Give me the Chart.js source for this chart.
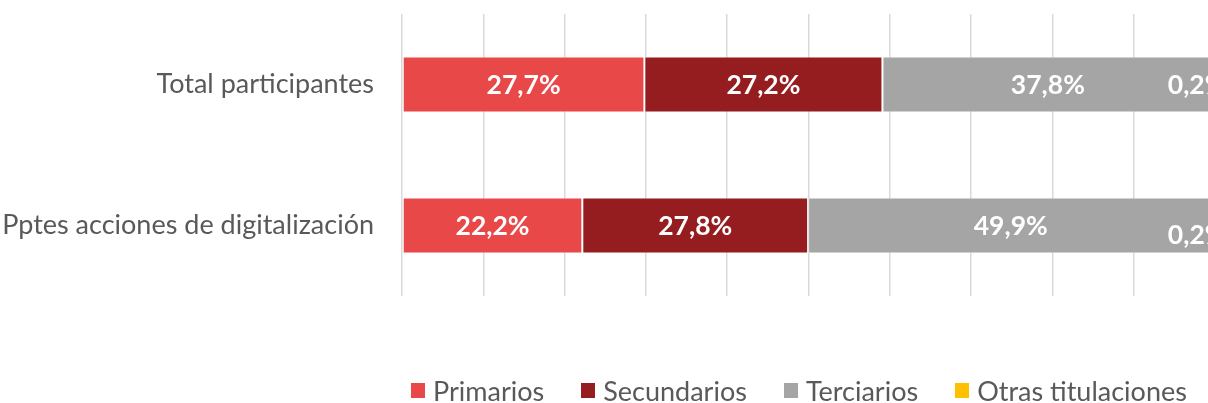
<!DOCTYPE html>
<html lang="es">
<head>
    <meta charset="UTF-8">
    <title>Nivel de estudios</title>
    <script src="https://cdn.jsdelivr.net/npm/chart.js"></script>
    <style>
        html, body {
            margin: 0;
            padding: 0;
            background: #fff;
            overflow: hidden;
            width: 1208px;
            height: 403px;
        }
        .wrap {
            position: relative;
            width: 1230px;
            height: 403px;
        }
        .legend {
            position: absolute;
            left: 411px;
            top: 374px;
            display: flex;
            align-items: center;
            font-family: Lato, sans-serif;
            font-size: 27px;
            color: #595959;
            white-space: nowrap;
        }
        .legend .item { display: flex; align-items: center; margin-right: 37px; }
        .legend .box { width: 14px; height: 15px; margin-right: 8px; }
    </style>
</head>
<body>
<div class="wrap">
    <canvas id="chart" width="1230" height="403"></canvas>
    <div class="legend" id="legend"></div>
</div>

<script>
    // data
    const categories = ['Total participantes', 'Pptes acciones de digitalización'];
    const seriesNames = ['Primarios', 'Secundarios', 'Terciarios', 'Otras titulaciones'];
    const primarios = [27.7, 22.2];
    const secundarios = [27.2, 27.8];
    const terciarios = [37.8, 49.9];
    const otras = [0.2, 0.2];
    const xTicks = [0, 10, 20, 30, 40, 50, 60, 70, 80, 90, 100];

    const colors = ['#E84848', '#951D20', '#A5A5A5', '#FFC000'];
    const allSeries = [primarios, secundarios, terciarios, otras];

    // 100% stacked: each row is scaled to its own total (like Excel)
    const totals = categories.map((c, i) => allSeries.reduce((s, arr) => s + arr[i], 0));

    const datasets = allSeries.map((vals, k) => ({
        label: seriesNames[k],
        data: vals.map((v, i) => v / totals[i] * 100),
        raw: vals,
        backgroundColor: colors[k],
        borderColor: 'rgba(255,255,255,0.35)',
        borderWidth: 1,
        borderSkipped: false,
        categoryPercentage: 1,
        barPercentage: 0.397
    }));

    // small label nudges for the tiny last segment
    const labelShift = { 3: { dx: -17, dy: [0, 9] } };

    const valueLabels = {
        id: 'valueLabels',
        afterDatasetsDraw(chart) {
            const ctx = chart.ctx;
            ctx.save();
            ctx.font = 'bold 26.5px Lato, sans-serif';
            ctx.fillStyle = '#fff';
            ctx.textAlign = 'center';
            ctx.textBaseline = 'middle';
            chart.data.datasets.forEach((ds, k) => {
                chart.getDatasetMeta(k).data.forEach((bar, i) => {
                    const txt = ds.raw[i].toFixed(1).replace('.', ',') + '%';
                    const sh = labelShift[k];
                    const x = (bar.x + bar.base) / 2 + (sh ? sh.dx : 0);
                    const y = bar.y + 1 + (sh ? sh.dy[i] : 0);
                    ctx.fillText(txt, x, y);
                });
            });
            ctx.restore();
        }
    };

    new Chart(document.getElementById('chart'), {
        type: 'bar',
        data: { labels: categories, datasets: datasets },
        options: {
            indexAxis: 'y',
            responsive: false,
            animation: false,
            layout: { padding: { top: 14, bottom: 107, left: 0, right: 15 } },
            plugins: {
                legend: { display: false },
                tooltip: { enabled: false }
            },
            scales: {
                x: {
                    stacked: true,
                    min: 0,
                    max: 100,
                    afterBuildTicks(scale) { scale.ticks = xTicks.map(v => ({ value: v })); },
                    ticks: { display: false },
                    grid: { color: '#D9D9D9', lineWidth: 1.5, drawTicks: false },
                    border: { display: false }
                },
                y: {
                    stacked: true,
                    afterFit(scale) {
                        scale.width = 402;
                        scale.paddingTop = 0;
                        scale.paddingBottom = 0;
                    },
                    grid: { display: false, drawTicks: false },
                    border: { display: false },
                    ticks: {
                        padding: 28,
                        color: '#595959',
                        font: { family: 'Lato', size: 27 }
                    }
                }
            }
        },
        plugins: [valueLabels]
    });

    // legend
    const legend = document.getElementById('legend');
    seriesNames.forEach((name, k) => {
        const item = document.createElement('div');
        item.className = 'item';
        item.innerHTML = '<span class="box" style="background:' + colors[k] + '"></span><span>' + name + '</span>';
        legend.appendChild(item);
    });
</script>
</body>
</html>
